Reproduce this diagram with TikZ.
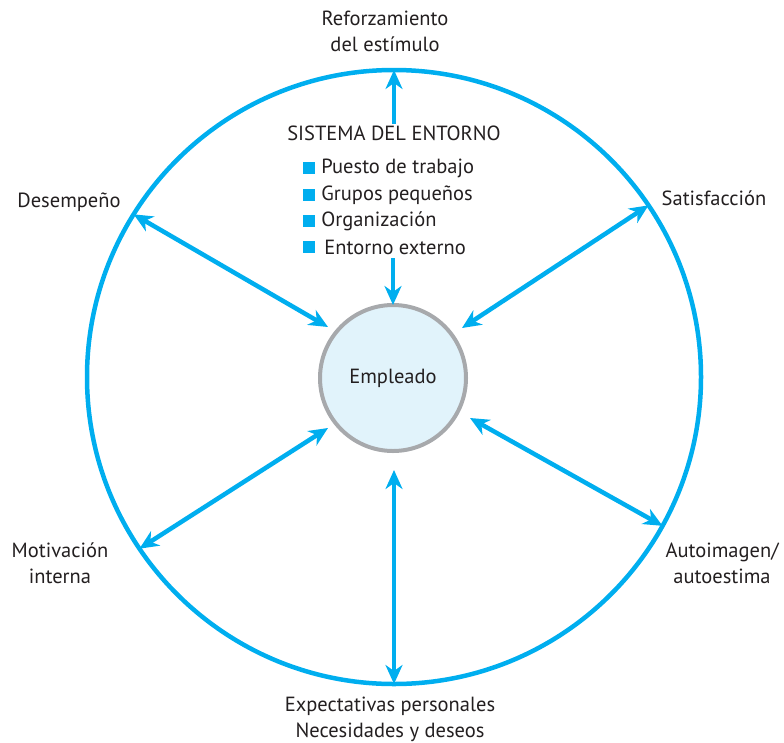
\documentclass[tikz,border=0pt]{standalone}
\usepackage{fontspec}
\setmainfont{PT Sans}
\usetikzlibrary{arrows.meta}
\usetikzlibrary{positioning}

\definecolor{ringblue}{RGB}{0,174,239}
\definecolor{empgray}{RGB}{167,169,172}
\definecolor{empfill}{RGB}{225,243,251}
\definecolor{txtgray}{RGB}{35,31,32}

\tikzset{
  label text/.style={text=txtgray, font=\fontsize{20.5}{26}\selectfont, align=center, inner sep=0pt},
  bullet/.style={fill=ringblue, minimum size=12pt, inner sep=0pt},
  biarrow/.style={{Stealth[length=19pt,width=17pt,inset=6pt]}-{Stealth[length=19pt,width=17pt,inset=6pt]}, ringblue, line width=4.5pt},
  onearrow/.style={-{Stealth[length=19pt,width=17pt,inset=6pt]}, ringblue, line width=4.5pt}
}

\begin{document}
\begin{tikzpicture}[x=1pt, y=-1pt]
      \useasboundingbox (0,0) rectangle (784,742);
      \node [circle, draw=ringblue, line width=4.5pt, outer sep=0pt, minimum size=614pt] (ring) at (394,377) {};
      \node [circle, draw=empgray, fill=empfill, line width=4pt, outer sep=0pt, minimum size=146pt, label text] (emp) at (393,378) {Empleado};

      % sistema del entorno
      \node [label text] (sys) at (394,133) {SISTEMA DEL ENTORNO};
      \node [bullet] (b1) at (309,168) {};
      \node [bullet] (b2) at (309,195) {};
      \node [bullet] (b3) at (309,221) {};
      \node [bullet] (b4) at (309,247) {};
      \node [label text, right=6pt of b1] (i1) {Puesto de trabajo};
      \node [label text, right=6pt of b2] (i2) {Grupos peque\~nos};
      \node [label text, right=6pt of b3] (i3) {Organizaci\'on};
      \node [label text, right=9pt of b4] (i4) {Entorno externo};

      % outer labels
      \node [label text] (refo) at (385,31) {Reforzamiento\\del est\'imulo};
      \node [label text] (desem) at (69,202) {Desempe\~no};
      \node [label text] (satis) at (714,198) {Satisfacci\'on};
      \node [label text] (motiv) at (60,563) {Motivaci\'on\\interna};
      \node [label text] (autoi) at (722,563) {Autoimagen/\\autoestima};
      \node [label text] (expec) at (390,719) {Expectativas personales\\Necesidades y deseos};

      % arrows
      \coordinate (sysFoot) at (394,124);
      \coordinate (listEnd) at (393,258);
      \coordinate (desIn) at (328,327);
      \coordinate (satIn) at (462,328);
      \coordinate (motIn) at (328,428);
      \coordinate (autIn) at (470,418);
      \coordinate (expIn) at (394,470);

      \draw [onearrow] (sysFoot) -- (ring.north);
      \draw [onearrow] (listEnd) -- (emp.north);
      \draw [biarrow] (ring.148) -- (desIn);
      \draw [biarrow] (ring.34) -- (satIn);
      \draw [biarrow] (ring.214) -- (motIn);
      \draw [biarrow] (ring.-29) -- (autIn);
      \draw [biarrow] (expIn) -- (ring.south);
\end{tikzpicture}
\end{document}
